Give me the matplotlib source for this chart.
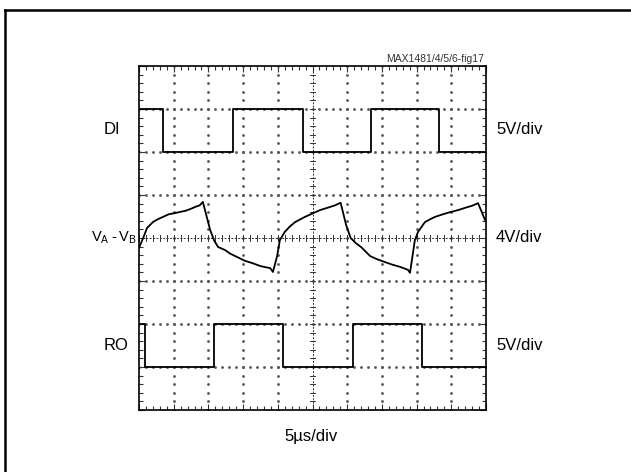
import numpy as np
import matplotlib
matplotlib.use("Agg")
import matplotlib.pyplot as plt
from matplotlib.lines import Line2D

plt.rcParams['font.family'] = ['Liberation Sans', 'DejaVu Sans']
plt.rcParams['mathtext.fontset'] = 'custom'
plt.rcParams['mathtext.rm'] = 'Liberation Sans'

# scope screen in divisions: x 0..10, y -4..4 (centre = 0)
di_edges = [0.70, 2.71, 4.72, 6.69, 8.65]     # DI starts high
di_levels = [3.0, 2.0]                         # high, low
ro_edges = [0.17, 2.16, 4.15, 6.17, 8.16]     # RO starts low
ro_levels = [-2.0, -3.0]

vab_x = [0.00, 0.12, 0.23, 0.40, 0.55, 0.69, 0.85, 1.04, 1.20, 1.33, 1.50, 1.61, 1.75, 1.84,
         1.95, 2.05, 2.16, 2.28, 2.48, 2.62, 2.77, 2.90, 3.05, 3.25, 3.49, 3.65, 3.78, 3.86,
         3.98, 4.06, 4.20, 4.35, 4.50, 4.78, 5.00, 5.22, 5.50, 5.65, 5.81,
         5.97, 6.10, 6.25, 6.40, 6.66, 6.85, 7.09, 7.30, 7.52, 7.75, 7.81,
         7.95, 8.04, 8.24, 8.40, 8.53, 8.75, 8.96, 9.20, 9.39, 9.60, 9.77, 9.88, 9.97]
vab_y = [-0.23, 0.00, 0.23, 0.37, 0.44, 0.49, 0.55, 0.58, 0.61, 0.63, 0.68, 0.72, 0.76, 0.84,
         0.50, 0.19, -0.05, -0.21, -0.28, -0.36, -0.42, -0.47, -0.53, -0.58, -0.65, -0.68, -0.70, -0.79,
         -0.42, -0.05, 0.14, 0.27, 0.37, 0.49, 0.57, 0.65, 0.72, 0.76, 0.82,
         0.30, 0.00, -0.12, -0.21, -0.42, -0.49, -0.56, -0.62, -0.67, -0.74, -0.81,
         -0.05, 0.14, 0.37, 0.44, 0.49, 0.55, 0.60, 0.65, 0.70, 0.75, 0.81, 0.60, 0.42]


def step_trace(edges, levels):
    xs, ys = [0.0], [levels[0]]
    k = 0
    for e in edges:
        xs += [e, e]
        ys += [levels[k % 2], levels[(k + 1) % 2]]
        k += 1
    xs.append(10.0)
    ys.append(levels[k % 2])
    return xs, ys


fig = plt.figure(figsize=(6.31, 4.72), dpi=100)
ax = fig.add_axes([139 / 631, 1 - 410 / 472, 347 / 631, 344 / 472])
ax.set_xlim(0, 10)
ax.set_ylim(-4, 4)

# graticule dots
minor_x = np.arange(0, 10.01, 0.2)
minor_y = np.arange(-4, 4.01, 0.2)
for gx in range(1, 10):
    if gx == 5:
        continue
    ax.plot(np.full_like(minor_y, gx), minor_y, ls='none', marker='s', ms=0.9, color='#555555')
for gy in range(-3, 4):
    if gy == 0:
        continue
    ax.plot(minor_x, np.full_like(minor_x, gy), ls='none', marker='s', ms=0.9, color='#555555')

# centre axes with small ticks
ax.plot([0, 10], [0, 0], ls=(0, (2, 1.5)), lw=0.7, color='#333333')
ax.plot([5, 5], [-4, 4], ls=(0, (2, 1.5)), lw=0.7, color='#333333')
for v in minor_x:
    ax.plot([v, v], [-0.07, 0.07], lw=0.7, color='#333333')
for v in minor_y:
    ax.plot([4.92, 5.08], [v, v], lw=0.7, color='#333333')

# traces
x, y = step_trace(di_edges, di_levels)
ax.plot(x, y, color='black', lw=1.3)
x, y = step_trace(ro_edges, ro_levels)
ax.plot(x, y, color='black', lw=1.3)
ax.plot(vab_x, vab_y, color='black', lw=1.3)

ax.set_xticks(range(0, 11))
ax.set_yticks(range(-4, 5))
ax.set_xticks(minor_x, minor=True)
ax.set_yticks(minor_y, minor=True)
ax.tick_params(which='both', direction='in', top=True, right=True,
               labelbottom=False, labelleft=False, width=0.8, color='#333333')
ax.tick_params(which='major', length=4)
ax.tick_params(which='minor', length=3)
for s in ax.spines.values():
    s.set_linewidth(1.2)

# labels
fs = 12
fig.text(104 / 631, 1 - 130 / 472, 'DI', fontsize=fs, va='center', ha='left')
fig.text(137 / 631, 1 - 238 / 472, 'V$_\\mathregular{A}$\u2009-\u2009V$_\\mathregular{B}$',
         fontsize=10.5, va='center', ha='right')
fig.text(104 / 631, 1 - 345 / 472, 'RO', fontsize=fs, va='center', ha='left')
fig.text(496 / 631, 1 - 130 / 472, '5V/div', fontsize=fs, va='center', ha='left')
fig.text(496 / 631, 1 - 238 / 472, '4V/div', fontsize=fs, va='center', ha='left')
fig.text(496 / 631, 1 - 345 / 472, '5V/div', fontsize=fs, va='center', ha='left')
fig.text(311 / 631, 1 - 436 / 472, '5\u00b5s/div', fontsize=fs, va='center', ha='center')
fig.text(484 / 631, 1 - 62 / 472, 'MAX1481/4/5/6-fig17', fontsize=7.5, va='baseline', ha='right', color='#333333')

# outer frame (left and top edges visible)
fig.add_artist(Line2D([5 / 631, 5 / 631], [0, 1 - 10 / 472], transform=fig.transFigure, color='black', lw=1.8))
fig.add_artist(Line2D([5 / 631, 1], [1 - 10 / 472, 1 - 10 / 472], transform=fig.transFigure, color='black', lw=1.8))

fig.savefig('out.png', dpi=100)
